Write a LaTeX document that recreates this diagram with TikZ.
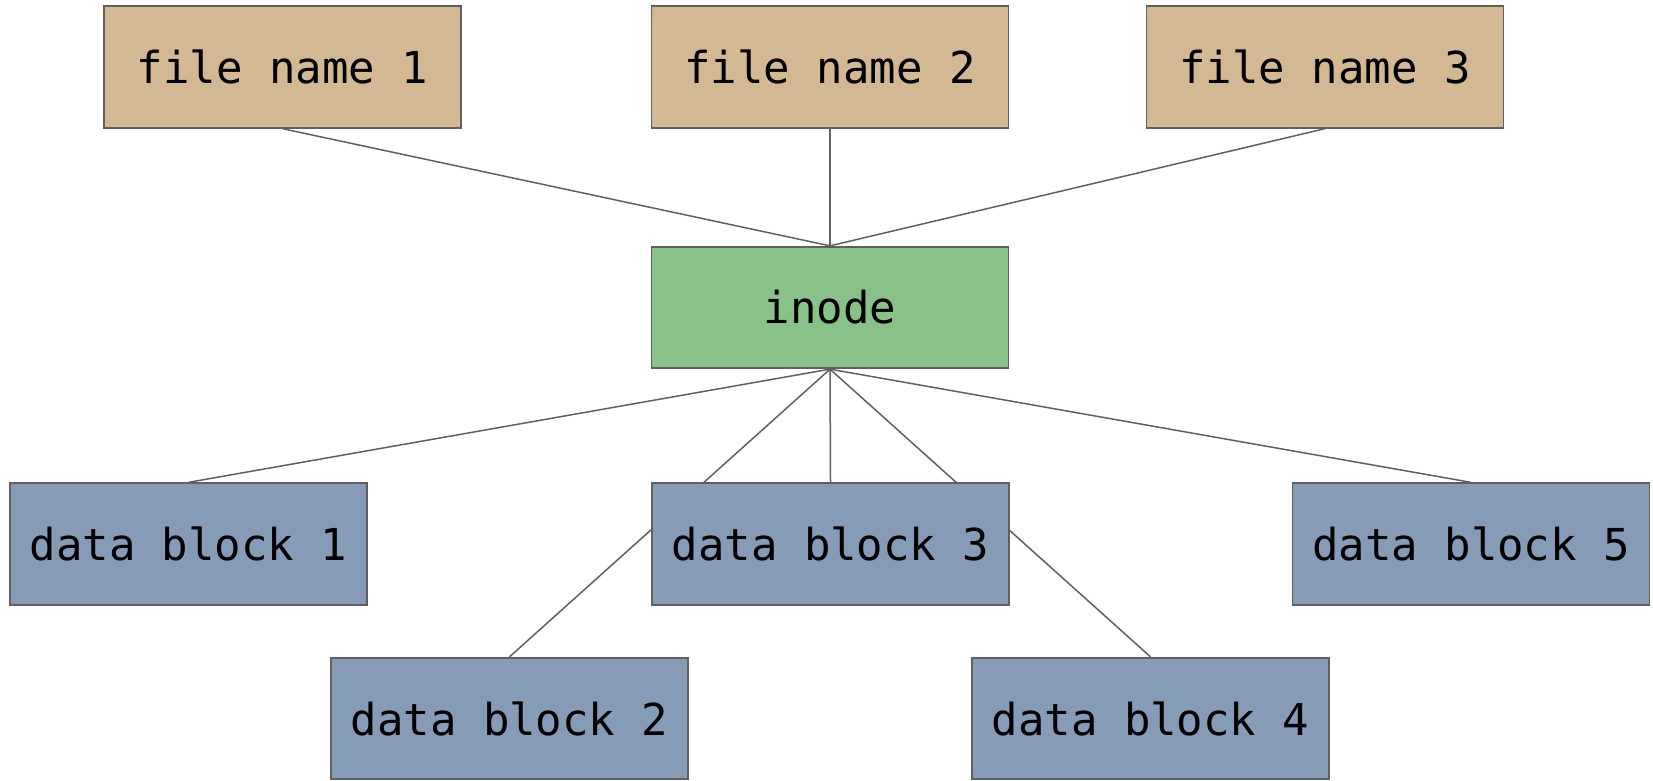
\documentclass[tikz,border=0pt]{standalone}
\usepackage{fontspec}
\setmonofont{DejaVu Sans Mono}
\usetikzlibrary{backgrounds}
\definecolor{nametan}{RGB}{211,184,148}
\definecolor{inodegreen}{RGB}{136,194,136}
\definecolor{blockblue}{RGB}{134,156,182}
\definecolor{edgegray}{RGB}{96,96,96}
\tikzset{
  box/.style={draw=edgegray, line width=1.8pt, rectangle, inner sep=0pt,
    minimum width=357pt, minimum height=121.5pt,
    font=\ttfamily\fontsize{44}{52}\selectfont},
  namebox/.style={box, fill=nametan},
  inodebox/.style={box, fill=inodegreen},
  blockbox/.style={box, fill=blockblue},
  link/.style={draw=edgegray, line width=1.5pt}
}
\begin{document}
\begin{tikzpicture}[x=1pt,y=-1pt]
  \useasboundingbox (0,0) rectangle (1653,780);
  % file names
  \node[namebox] (fn1) at (282.5,67) {\raisebox{-2pt}{file name 1}};
  \node[namebox] (fn2) at (830,67) {\raisebox{-2pt}{file name 2}};
  \node[namebox] (fn3) at (1325,67) {\raisebox{-2pt}{file name 3}};
  % inode
  \node[inodebox] (inode) at (830,307.5) {\raisebox{-2pt}{inode}};
  % data blocks
  \node[blockbox] (db1) at (188.5,544) {\raisebox{-2pt}{data block 1}};
  \node[blockbox] (db3) at (830.5,544) {\raisebox{-2pt}{data block 3}};
  \node[blockbox] (db5) at (1471,544) {\raisebox{-2pt}{data block 5}};
  \node[blockbox] (db2) at (509.5,718.5) {\raisebox{-2pt}{data block 2}};
  \node[blockbox] (db4) at (1150.5,718.5) {\raisebox{-2pt}{data block 4}};
  \begin{pgfonlayer}{background}
    \draw[link] (fn1.south) -- (inode.north);
    \draw[link] (fn2.south) -- (inode.north);
    \draw[link] (fn3.south) -- (inode.north);
    \draw[link] (inode.south) -- (db1.north);
    \draw[link] (inode.south) -- (db2.north);
    \draw[link] (inode.south) -- (db3.north);
    \draw[link] (inode.south) -- (db4.north);
    \draw[link] (inode.south) -- (db5.north);
  \end{pgfonlayer}
\end{tikzpicture}
\end{document}
